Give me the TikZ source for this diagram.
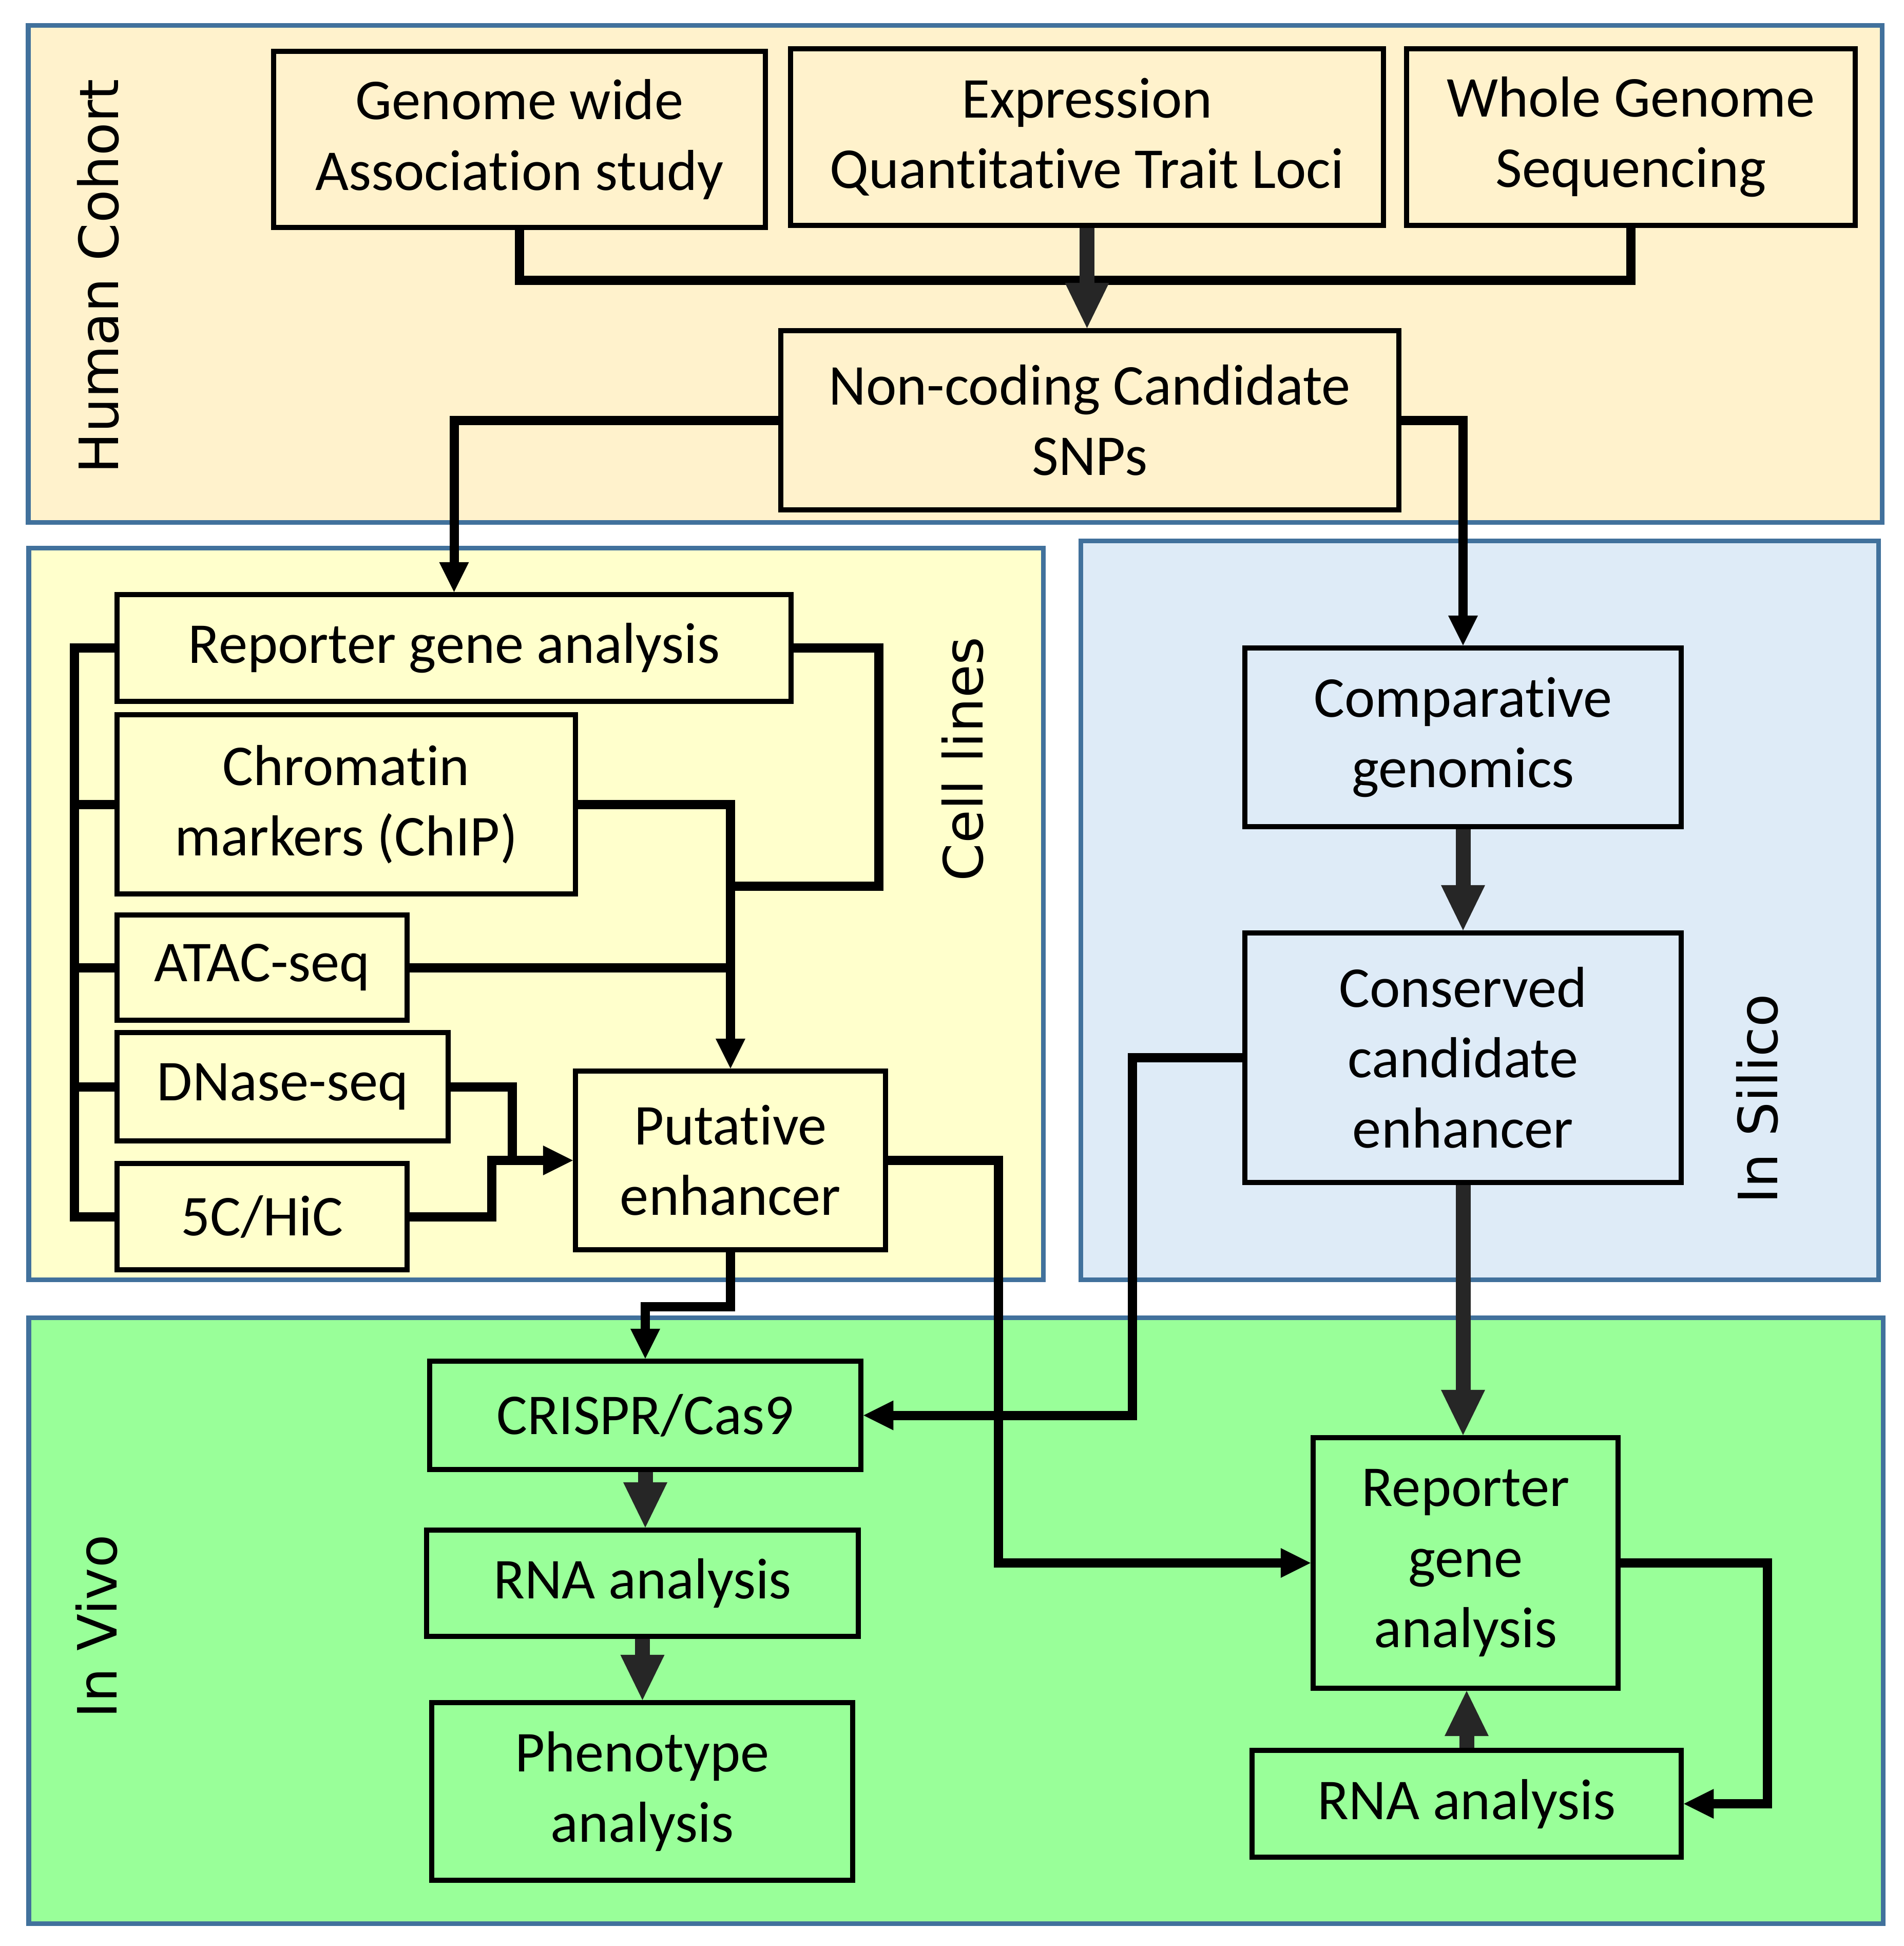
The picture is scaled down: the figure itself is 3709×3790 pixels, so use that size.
\documentclass[tikz,border=0pt]{standalone}
\usepackage{fontspec}
\setmainfont{Carlito}[Ligatures={NoCommon}]
\newfontfamily\labfont{DejaVu Sans}
\usetikzlibrary{arrows.meta}
\definecolor{hcfill}{HTML}{FFF2CC}
\definecolor{clfill}{HTML}{FFFFCC}
\definecolor{isfill}{HTML}{DEEBF7}
\definecolor{ivfill}{HTML}{99FF99}
\definecolor{panelline}{HTML}{41719C}
\definecolor{darkarrow}{HTML}{262626}
\begin{document}
\begin{tikzpicture}[x=0.01cm,y=-0.01cm,
  panel/.style={draw=panelline,line width=0.09cm},
  box/.style={draw=black,line width=0.1cm,inner sep=0pt,align=center,font=\fontsize{32pt}{39pt}\selectfont},
  conn/.style={draw=black,line width=0.18cm},
  blacktip/.style={-{Triangle[length=0.58cm,width=0.58cm,line width=0pt]}},
  darr/.style={draw=darkarrow,line width=0.29cm,-{Triangle[length=0.88cm,width=0.86cm,line width=0pt]}},
  sect/.style={font=\labfont\fontsize{30pt}{36pt}\selectfont,rotate=90,inner sep=0pt}]
\useasboundingbox (0,0) rectangle (3709,3790);
\fill[white] (0,0) rectangle (3709,3790);

% panels
\draw[panel,fill=hcfill] (55,49) rectangle (3666,1017);
\draw[panel,fill=clfill] (56,1067) rectangle (2032,2492);
\draw[panel,fill=isfill] (2105,1053) rectangle (3659,2492);
\draw[panel,fill=ivfill] (56,2566) rectangle (3668,3746);

% panel labels
\node[sect] (lhc) at (191,538) {Human Cohort};
\node[sect] (lcl) at (1875,1478) {Cell lines};
\node[sect] (lis) at (3423,2140) {In Silico};
\node[sect] (liv) at (188,3168) {In Vivo};

% boxes
\node[box,minimum width=9.58cm,minimum height=3.43cm] (gwas) at (1012,271.5) {Genome wide\\Association study};
\node[box,minimum width=11.55cm,minimum height=3.44cm] (eqtl) at (2117.5,267) {Expression\\Quantitative Trait Loci};
\node[box,minimum width=8.74cm,minimum height=3.44cm] (wgs) at (3177,267) {Whole Genome\\Sequencing};
\node[box,minimum width=12.04cm,minimum height=3.49cm] (nc) at (2123,818.5) {Non-coding Candidate\\SNPs};

\node[box,minimum width=13.13cm,minimum height=2.08cm] (rep) at (884.5,1262) {Reporter gene analysis};
\node[box,minimum width=8.93cm,minimum height=3.49cm] (chip) at (674.5,1566.5) {Chromatin\\markers (ChIP)};
\node[box,minimum width=5.65cm,minimum height=2.05cm] (atac) at (510.5,1884.5) {ATAC-seq};
\node[box,minimum width=6.45cm,minimum height=2.11cm] (dnase) at (550.5,2116.5) {DNase-seq};
\node[box,minimum width=5.65cm,minimum height=2.07cm] (hic) at (510.5,2369.5) {5C/HiC};
\node[box,minimum width=6.04cm,minimum height=3.48cm] (put) at (1423,2260) {Putative\\enhancer};

\node[box,minimum width=8.50cm,minimum height=3.48cm] (comp) at (2850,1436) {Comparative\\genomics};
\node[box,minimum width=8.50cm,minimum height=4.86cm] (cons) at (2850,2060) {Conserved\\candidate\\enhancer};

\node[box,minimum width=8.40cm,minimum height=2.11cm] (crispr) at (1257,2756.5) {CRISPR/Cas9};
\node[box,minimum width=8.41cm,minimum height=2.07cm] (rna1) at (1251.5,3083.5) {RNA analysis};
\node[box,minimum width=8.20cm,minimum height=3.46cm] (pheno) at (1251,3489) {Phenotype\\analysis};
\node[box,minimum width=5.94cm,minimum height=4.88cm] (rep2) at (2855,3044) {Reporter\\gene\\analysis};
\node[box,minimum width=8.36cm,minimum height=2.08cm] (rna2) at (2857,3513) {RNA analysis};

% helper coordinates
\coordinate (bus) at (2117,546);
\coordinate (bx) at (145,0);
\coordinate (rr) at (1712,1726);
\coordinate (dn) at (998,2260);
\coordinate (hc) at (958,2260);
\coordinate (pb) at (1423,2545);
\coordinate (pr) at (1945,2260);
\coordinate (cl) at (2206,2060);
\coordinate (r2) at (3443,3044);

% human cohort connectors
\draw[conn] (gwas.south) |- (bus) -| (wgs.south);
\draw[darr] (eqtl.south) -- (eqtl.south |- nc.north);
\draw[conn,blacktip] (nc.west) -| (rep.north);
\draw[conn,blacktip] (nc.east) -| (comp.north);

% cell lines connectors
\draw[conn] (rep.west) -- (rep.west -| bx) -- (hic.west -| bx) -- (hic.west);
\draw[conn] (chip.west -| bx) -- (chip.west);
\draw[conn] (atac.west -| bx) -- (atac.west);
\draw[conn] (dnase.west -| bx) -- (dnase.west);
\draw[conn] (rep.east) -| (rr) -- (rr -| put.north);
\draw[conn,blacktip] (chip.east) -| (put.north);
\draw[conn] (atac.east) -- (atac.east -| put.north);
\draw[conn] (dnase.east) -| (dn);
\draw[conn,blacktip] (hic.east) -| (hc) -- (put.west);

% in silico connectors
\draw[darr] (comp.south) -- (cons.north);
\draw[darr] (cons.south) -- (cons.south |- rep2.north);
\draw[conn,blacktip] (cons.west) -- (cl) |- (crispr.east);

% in vivo connectors
\draw[conn,blacktip] (put.south) -- (pb) -| (crispr.north);
\draw[conn,blacktip] (put.east) -- (pr) |- (rep2.west);
\draw[darr] (crispr.south) -- (crispr.south |- rna1.north);
\draw[darr] (rna1.south) -- (rna1.south |- pheno.north);
\draw[darr] (rna2.north) -- (rna2.north |- rep2.south);
\draw[conn,blacktip] (rep2.east) -- (r2) |- (rna2.east);
\end{tikzpicture}
\end{document}
